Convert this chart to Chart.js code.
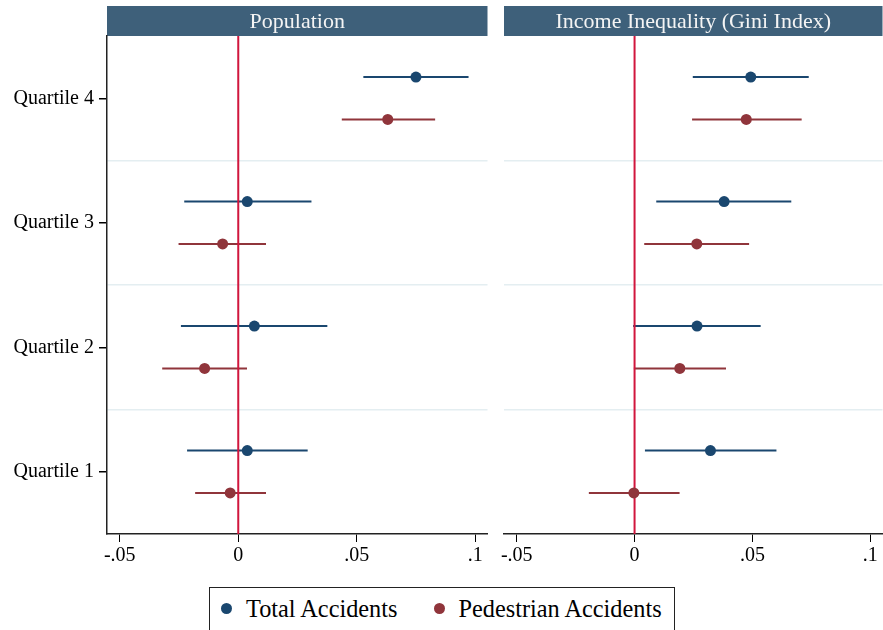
<!DOCTYPE html>
<html>
<head>
<meta charset="utf-8">
<script src="https://cdn.jsdelivr.net/npm/chart.js@4/dist/chart.umd.min.js"></script>
<style>
  body { margin: 0; background: #fff; }
  #wrap { position: relative; width: 883px; height: 630px; overflow: hidden; font-family: "Liberation Serif", "Times New Roman", serif; }
  canvas { position: absolute; top: 0; }
  #c1 { left: 0; }
  #c2 { left: 470px; }
  #legend { position: absolute; left: 209px; top: 587px; width: 466px; height: 60px; border: 1px solid #222; box-sizing: border-box; }
  .item { position: absolute; top: 5px; font-size: 24.3px; line-height: 32px; color: #000; white-space: nowrap; }
  .dot { display: inline-block; width: 11px; height: 11px; border-radius: 50%; margin-right: 14px; vertical-align: 3px; }
</style>
</head>
<body>
<div id="wrap">
  <canvas id="c1" width="493" height="580"></canvas>
  <canvas id="c2" width="418" height="580"></canvas>
  <div id="legend">
    <div class="item" style="left:11px"><span class="dot" style="background:#1a476f"></span>Total Accidents</div>
    <div class="item" style="left:223.5px"><span class="dot" style="background:#90353b"></span>Pedestrian Accidents</div>
  </div>
</div>
<script>
// categories (Quartile 1 .. Quartile 4)
const quartiles = ["Quartile 1", "Quartile 2", "Quartile 3", "Quartile 4"];
const xTicks = [-0.05, 0, 0.05, 0.1];

// Population panel
const popTotal = [0.0038, 0.0068, 0.0038, 0.075];
const popTotalLo = [-0.0216, -0.0242, -0.0228, 0.0528];
const popTotalHi = [0.0293, 0.0376, 0.0309, 0.0972];
const popPed = [-0.0034, -0.0142, -0.0066, 0.0631];
const popPedLo = [-0.0182, -0.0321, -0.0252, 0.0437];
const popPedHi = [0.0117, 0.0037, 0.0117, 0.0831];

// Income inequality (Gini) panel
const giniTotal = [0.0322, 0.0265, 0.038, 0.0493];
const giniTotalLo = [0.0044, -0.0006, 0.0092, 0.0247];
const giniTotalHi = [0.0602, 0.0535, 0.0665, 0.0739];
const giniPed = [-0.0003, 0.0192, 0.0264, 0.0474];
const giniPedLo = [-0.0194, -0.0003, 0.0041, 0.0244];
const giniPedHi = [0.0191, 0.0388, 0.0486, 0.0709];

const NAVY = "#1a476f";
const MAROON = "#90353b";
const FONT = "'Liberation Serif', 'Times New Roman', serif";
const SHIFT = 0.17; // vertical offset of the two series around each quartile

function points(est, shift) {
  return est.map((v, i) => ({ x: v, y: i + 1 + shift }));
}
function ciSegments(lo, hi, shift) {
  const out = [];
  lo.forEach((v, i) => {
    out.push({ x: v, y: i + 1 + shift });
    out.push({ x: hi[i], y: i + 1 + shift });
    out.push({ x: hi[i], y: null }); // break the line
  });
  return out;
}

const headerBand = {
  id: "headerBand",
  beforeDraw(chart, args, opts) {
    const { ctx, chartArea } = chart;
    ctx.save();
    ctx.fillStyle = "#3e607a";
    ctx.fillRect(chartArea.left, 6, chartArea.right - chartArea.left, chartArea.top - 6);
    ctx.fillStyle = "#f4f4f4";
    ctx.font = "22px " + FONT;
    ctx.textAlign = "center";
    ctx.textBaseline = "middle";
    ctx.fillText(opts.text, (chartArea.left + chartArea.right) / 2, 22);
    ctx.restore();
  }
};

function makePanel(id, title, tot, totLo, totHi, ped, pedLo, pedHi, first) {
  new Chart(document.getElementById(id), {
    type: "scatter",
    data: {
      datasets: [
        { data: points(tot, SHIFT), backgroundColor: NAVY, pointRadius: 5.5, pointBorderWidth: 0, order: 0 },
        { data: points(ped, -SHIFT), backgroundColor: MAROON, pointRadius: 5.5, pointBorderWidth: 0, order: 0 },
        { data: [{ x: 0, y: 0.5 }, { x: 0, y: 4.5 }], showLine: true, borderColor: "#d1163d", borderWidth: 2, pointRadius: 0, order: 1 },
        { data: ciSegments(totLo, totHi, SHIFT), showLine: true, spanGaps: false, borderColor: NAVY, borderWidth: 2, pointRadius: 0, order: 2 },
        { data: ciSegments(pedLo, pedHi, -SHIFT), showLine: true, spanGaps: false, borderColor: MAROON, borderWidth: 2, pointRadius: 0, order: 2 }
      ]
    },
    options: {
      responsive: false,
      animation: false,
      events: [],
      layout: { padding: first ? { left: 0, right: 3, top: 36, bottom: 0 } : { left: 34, right: 0, top: 36, bottom: 0 } },
      plugins: { legend: { display: false }, tooltip: { enabled: false }, headerBand: { text: title } },
      scales: {
        x: {
          type: "linear",
          min: -0.0554,
          max: 0.1052,
          afterBuildTicks: (s) => { s.ticks = xTicks.map((v) => ({ value: v })); },
          afterFit: (s) => { s.height = 46; },
          ticks: {
            color: "#000",
            padding: 2,
            maxRotation: 0,
            font: { family: FONT, size: 20 },
            callback: (v) => (v === 0 ? "0" : String(v).replace("0.", "."))
          },
          grid: { drawOnChartArea: false, tickLength: 8, tickColor: "#000" },
          border: { color: "#222", width: 1.5 }
        },
        y: {
          type: "linear",
          min: 0.5,
          max: 4.5,
          afterBuildTicks: (s) => { s.ticks = [1, 1.5, 2, 2.5, 3, 3.5, 4].map((v) => ({ value: v })); },
          afterFit: (s) => { s.width = first ? 107 : 0; },
          ticks: {
            display: first,
            color: "#000",
            padding: 5,
            font: { family: FONT, size: 20 },
            callback: (v) => (Number.isInteger(v) ? quartiles[v - 1] : "")
          },
          grid: {
            drawTicks: first,
            tickLength: 8,
            color: (c) => (Number.isInteger(c.tick.value) ? "rgba(0,0,0,0)" : "#e4eef1"),
            tickColor: (c) => (Number.isInteger(c.tick.value) ? "#000" : "rgba(0,0,0,0)"),
            lineWidth: 1.5
          },
          border: { display: first, color: "#222", width: 1.5 }
        }
      }
    },
    plugins: [headerBand]
  });
}

makePanel("c1", "Population", popTotal, popTotalLo, popTotalHi, popPed, popPedLo, popPedHi, true);
makePanel("c2", "Income Inequality (Gini Index)", giniTotal, giniTotalLo, giniTotalHi, giniPed, giniPedLo, giniPedHi, false);
</script>
</body>
</html>
